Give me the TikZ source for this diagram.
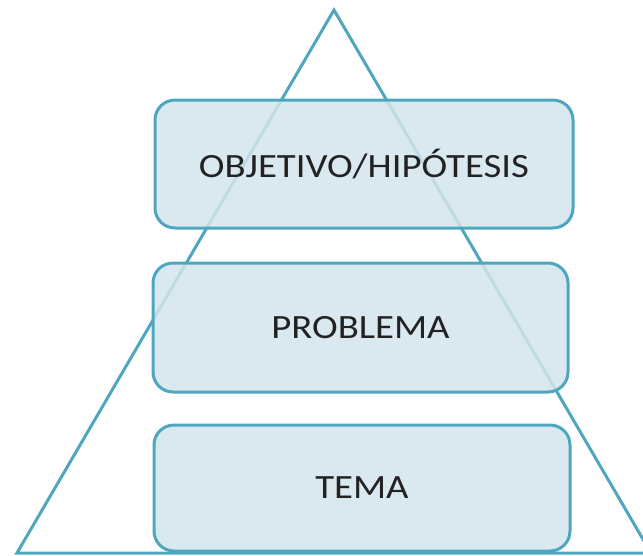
\documentclass[tikz,border=0pt]{standalone}
\usepackage{fontspec}
\setmainfont{Carlito}[FakeStretch=1.14]
\definecolor{edge}{HTML}{4FA7BF}
\definecolor{boxfill}{HTML}{D3E4EC}
\definecolor{txt}{HTML}{222222}
\begin{document}
\begin{tikzpicture}[x=1pt,y=-1pt,
  tier/.style={draw=edge, line width=3pt, fill=boxfill, fill opacity=0.85, text opacity=1,
    rounded corners=20pt, inner sep=0pt, text=txt,
    font=\fontsize{34}{40}\selectfont},
  tri/.style={draw=edge, line width=3pt, line join=miter}]
\useasboundingbox (0,0) rectangle (643,555);
\clip (0,0) rectangle (643,555);
\draw[tri] (334,10) -- (651,553) -- (17,553) -- cycle;
\node[tier, minimum width=418pt, minimum height=128pt] (obj) at (364,164) {OBJETIVO/HIPÓTESIS};
\node[tier, minimum width=415pt, minimum height=129pt] (prob) at (360.5,327.5) {PROBLEMA};
\node[tier, minimum width=416pt, minimum height=126pt] (tema) at (362,488) {TEMA};
\end{tikzpicture}
\end{document}
